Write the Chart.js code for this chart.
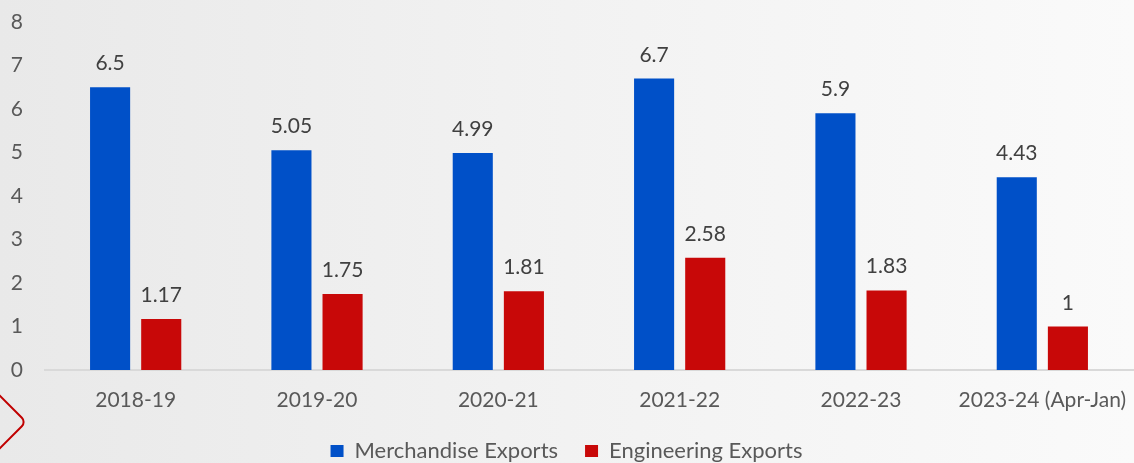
<!DOCTYPE html>
<html>
<head>
<meta charset="utf-8">
<script src="https://cdn.jsdelivr.net/npm/chart.js@4.4.1/dist/chart.umd.min.js"></script>
<style>
  html, body { margin: 0; padding: 0; width: 1134px; height: 463px; overflow: hidden;
    background: linear-gradient(to right, #e9e9e9 0%, #f2f2f2 50%, #fafafa 100%); }
  #wrap { position: absolute; left: 0; top: 0; width: 1134px; height: 472px; }
</style>
</head>
<body>
<div id="wrap"><canvas id="c"></canvas></div>
<script>
const categories = ["2018-19", "2019-20", "2020-21", "2021-22", "2022-23", "2023-24 (Apr-Jan)"];
const merchandiseExports = [6.5, 5.05, 4.99, 6.7, 5.9, 4.43];
const engineeringExports = [1.17, 1.75, 1.81, 2.58, 1.83, 1];
const seriesNames = ["Merchandise Exports", "Engineering Exports"];
const yTicks = [0, 1, 2, 3, 4, 5, 6, 7, 8];

const FONT = "Lato, 'Open Sans', sans-serif";

const valueLabels = {
  id: 'valueLabels',
  afterDatasetsDraw(chart) {
    const ctx = chart.ctx;
    ctx.save();
    ctx.font = "21px " + FONT;
    ctx.fillStyle = '#404040';
    ctx.textAlign = 'center';
    ctx.textBaseline = 'alphabetic';
    chart.data.datasets.forEach((ds, di) => {
      const meta = chart.getDatasetMeta(di);
      meta.data.forEach((bar, i) => {
        ctx.fillText(String(ds.data[i]), bar.x, bar.y - 17);
      });
    });
    ctx.restore();
  }
};

const decoration = {
  id: 'decoration',
  beforeDraw(chart) {
    const ctx = chart.ctx;
    ctx.save();
    ctx.translate(-22, 422);
    ctx.rotate(Math.PI / 4);
    ctx.strokeStyle = '#c00000';
    ctx.lineWidth = 2;
    const s = 68, r = 6;
    ctx.beginPath();
    ctx.moveTo(-s/2 + r, -s/2);
    ctx.arcTo(s/2, -s/2, s/2, s/2, r);
    ctx.arcTo(s/2, s/2, -s/2, s/2, r);
    ctx.arcTo(-s/2, s/2, -s/2, -s/2, r);
    ctx.arcTo(-s/2, -s/2, s/2, -s/2, r);
    ctx.closePath();
    ctx.stroke();
    ctx.restore();
  }
};

new Chart(document.getElementById('c'), {
  type: 'bar',
  data: {
    labels: categories,
    datasets: [
      { label: seriesNames[0], data: merchandiseExports, backgroundColor: '#0050c8',
        borderWidth: 0, categoryPercentage: 0.564, barPercentage: 0.784 },
      { label: seriesNames[1], data: engineeringExports, backgroundColor: '#c80808',
        borderWidth: 0, categoryPercentage: 0.564, barPercentage: 0.784 }
    ]
  },
  options: {
    responsive: true,
    maintainAspectRatio: false,
    animation: false,
    layout: { padding: { top: 22, right: 1, left: 0, bottom: 0 } },
    plugins: {
      tooltip: { enabled: false },
      legend: {
        position: 'bottom',
        labels: {
          font: { family: FONT, size: 22 },
          color: '#595959',
          boxWidth: 13,
          boxHeight: 12,
          padding: 27
        }
      }
    },
    scales: {
      x: {
        afterFit(axis) { axis.height = 43; axis.paddingLeft = 0; axis.paddingRight = 0; },
        grid: { display: false, drawTicks: false },
        border: { display: true, color: '#d9d9d9', width: 2 },
        ticks: { font: { family: FONT, size: 21 }, color: '#595959', padding: 18, maxRotation: 0, autoSkip: false }
      },
      y: {
        min: 0, max: 8,
        afterBuildTicks(axis) { axis.ticks = yTicks.map(v => ({ value: v })); },
        afterFit(axis) { axis.width = 45; axis.paddingTop = 0; axis.paddingBottom = 0; },
        grid: { display: false, drawTicks: false },
        border: { display: false },
        ticks: { font: { family: FONT, size: 21 }, color: '#595959', padding: 22 }
      }
    }
  },
  plugins: [decoration, valueLabels]
});
</script>
</body>
</html>
